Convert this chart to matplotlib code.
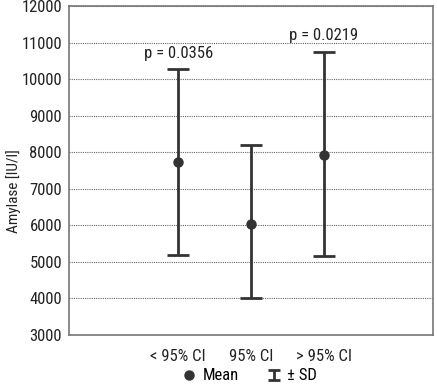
import matplotlib
matplotlib.use("Agg")
import matplotlib.pyplot as plt
from matplotlib.path import Path
from matplotlib.lines import Line2D

plt.rcParams['font.family'] = ['Roboto Condensed', 'Liberation Sans Narrow', 'Liberation Sans', 'DejaVu Sans']

groups = ["< 95% CI", "95% CI", "> 95% CI"]
means = [7730, 6040, 7930]
upper = [10270, 8190, 10730]
lower = [5190, 4010, 5160]
p_texts = ["p = 0.0356", None, "p = 0.0219"]
p_ypos = [10690, None, 11200]

fontsize = 12
dark = "#333333"

fig = plt.figure(figsize=(4.37, 3.86), dpi=100)
ax = fig.add_axes([69 / 437, 1 - 335 / 386, 364 / 437, 329 / 386])

xs = list(range(len(groups)))
yerr = [[m - l for m, l in zip(means, lower)], [u - m for m, u in zip(means, upper)]]
ax.errorbar(xs, means, yerr=yerr, fmt="o", color=dark, ecolor=dark,
            markersize=6.5, elinewidth=2, capsize=8, capthick=2, zorder=3)

for x, t, y in zip(xs, p_texts, p_ypos):
    if t:
        ax.text(x, y, t, ha="center", va="center", fontsize=fontsize, color="#222222")

ax.set_xlim(-1.5, 3.5)
ax.set_ylim(3000, 12000)
ax.set_yticks(range(3000, 12001, 1000))
ax.set_xticks(xs)
ax.set_xticklabels(groups)
ax.tick_params(length=0, labelsize=fontsize, colors="#222222", pad=5)
ax.tick_params(axis="x", pad=10)
ax.yaxis.grid(True, linestyle=(0, (1, 1)), color="#666666", linewidth=0.8)
for s in ax.spines.values():
    s.set_color("#777777")
    s.set_linewidth(1.2)
ax.set_ylabel("Amylase [IU/l]", fontsize=11, color="#222222")
# label sits a bit below the axis middle, as in the original
ax.yaxis.set_label_coords((21 - 69) / 364, (335 - 191) / 329)

ibeam = Path([(-1, 0.75), (1, 0.75), (0, 0.75), (0, -0.75), (-1, -0.75), (1, -0.75)],
             [Path.MOVETO, Path.LINETO, Path.MOVETO, Path.LINETO, Path.MOVETO, Path.LINETO])
handles = [Line2D([], [], marker="o", ls="none", color=dark, markersize=6.5),
           Line2D([], [], marker=ibeam, ls="none", color=dark, markersize=9,
                  markeredgewidth=2, fillstyle="none")]
fig.legend(handles, ["Mean", "± SD"], loc="center", bbox_to_anchor=(250 / 437, 1 - 376 / 386),
           ncol=2, frameon=False, fontsize=fontsize, handlelength=0.8, columnspacing=1.7,
           handletextpad=0.4)

fig.savefig("out.png", dpi=100)
